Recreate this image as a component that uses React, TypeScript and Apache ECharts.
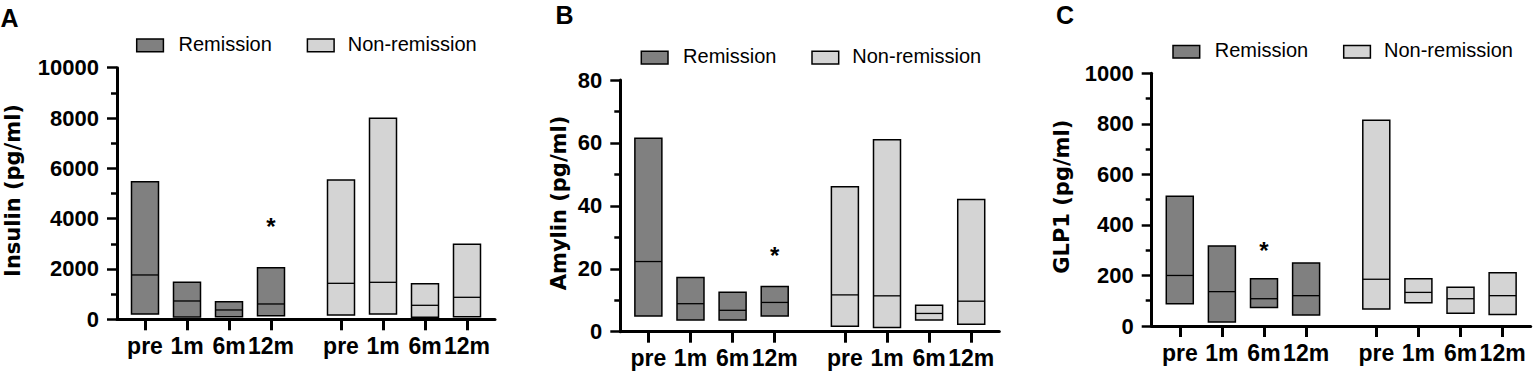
import React, { useEffect, useRef } from 'react';
import * as echarts from 'echarts';

const timepoints = ['pre', '1m', '6m', '12m'];
const groupNames = ['Remission', 'Non-remission'];
// each row: [min, median, max] for one timepoint
const insulinRemission = [[212, 1762, 5470], [95, 728, 1470], [106, 371, 702], [146, 609, 2053]];
const insulinNonRemission = [[172, 1430, 5536], [212, 1470, 7987], [80, 556, 1417], [106, 874, 2980]];
const amylinRemission = [[5.0, 22.3, 61.5], [3.7, 8.9, 17.2], [3.7, 6.8, 12.5], [5.0, 9.3, 14.4]];
const amylinNonRemission = [[1.7, 11.7, 46.1], [1.3, 11.4, 61.0], [3.7, 5.8, 8.4], [2.4, 9.7, 42.0]];
const glp1Remission = [[88, 200, 513], [16, 136, 317], [73, 108, 187], [44, 120, 249]];
const glp1NonRemission = [[67, 185, 814], [92, 133, 187], [50, 108, 153], [46, 120, 211]];
const panelLetters = ['A', 'B', 'C'];
const yTitles = ['Insulin (pg/ml)', 'Amylin (pg/ml)', 'GLP1 (pg/ml)'];
const yMaxes = [10000, 80, 1000];
const yIntervals = [2000, 20, 200];
// significance marker per panel: [group index, timepoint index, y value]
const stars = [[0, 3, 3880], [0, 3, 26], [0, 2, 320]];

const panelData = [
  [insulinRemission, insulinNonRemission],
  [amylinRemission, amylinNonRemission],
  [glp1Remission, glp1NonRemission],
];

const FONT = 'Liberation Sans';
const TITLE_FONT = 'DejaVu Sans';
const groupColors = ['#808080', '#d4d4d4'];
const grids = [
  { left: 117, top: 67.7, width: 378, height: 251.6 },
  { left: 620.3, top: 80, width: 379, height: 251.7 },
  { left: 1151.7, top: 73.3, width: 379, height: 252.7 },
];
const legendPos = [
  { x: 136.7, y: 45.3 },
  { x: 641.3, y: 57.5 },
  { x: 1173, y: 51.7 },
];
const letterPos = [
  { x: 0.5, y: 17.5 },
  { x: 555.5, y: 15 },
  { x: 1056, y: 15.3 },
];
const titlePos = [
  { x: 13, y: 190.5 },
  { x: 558.7, y: 203 },
  { x: 1061.5, y: 196.7 },
];

const slot = (g: number, t: number) => g * 14 + t * 3;
const slots: number[] = [];
groupNames.forEach((_, g) => timepoints.forEach((_, t) => slots.push(slot(g, t))));
const labelFor = (v: number) => {
  const idx = slots.findIndex((s) => Math.abs(s - v) < 1e-6);
  return idx >= 0 ? timepoints[idx % timepoints.length] : '';
};

export default function App() {
  const ref = useRef<HTMLDivElement>(null);
  useEffect(() => {
    if (!ref.current) return;
    const chart = echarts.init(ref.current, undefined, { renderer: 'svg' });

    const xAxis: any[] = [];
    const yAxis: any[] = [];
    const series: any[] = [];
    const graphic: any[] = [];

    grids.forEach((_, p) => {
      xAxis.push({
        type: 'value',
        gridIndex: p,
        min: -2,
        max: 25,
        axisLine: { show: true, onZero: false, lineStyle: { color: '#000', width: 3 } },
        axisTick: { show: true, customValues: slots, length: 11, lineStyle: { color: '#000', width: 3 } },
        axisLabel: {
          show: true,
          customValues: slots,
          formatter: (v: number) => labelFor(v),
          color: '#000',
          fontFamily: FONT,
          fontWeight: 'bold',
          fontSize: 23,
          margin: 15,
        },
        splitLine: { show: false },
      });
      yAxis.push({
        type: 'value',
        gridIndex: p,
        min: 0,
        max: yMaxes[p],
        interval: yIntervals[p],
        axisLine: { show: true, onZero: false, lineStyle: { color: '#000', width: 3 } },
        axisTick: { show: true, length: 10, lineStyle: { color: '#000', width: 2.5 } },
        minorTick: { show: true, splitNumber: 2, length: 6, lineStyle: { color: '#000', width: 2.5 } },
        axisLabel: {
          color: '#000',
          fontFamily: FONT,
          fontWeight: 'bold',
          fontSize: 22,
          margin: 18,
          formatter: (v: number) => String(v),
        },
        splitLine: { show: false },
      });

      panelData[p].forEach((arr, g) => {
        series.push({
          type: 'custom',
          name: groupNames[g],
          xAxisIndex: p,
          yAxisIndex: p,
          encode: { x: 0, y: [1, 2, 3] },
          data: arr.map((row, t) => [slot(g, t), row[0], row[1], row[2]]),
          renderItem: (params: any, api: any) => {
            const x = api.value(0);
            const lo = api.coord([x, api.value(1)]);
            const med = api.coord([x, api.value(2)]);
            const hi = api.coord([x, api.value(3)]);
            const w = 27;
            return {
              type: 'group',
              children: [
                {
                  type: 'rect',
                  shape: { x: lo[0] - w / 2, y: hi[1], width: w, height: lo[1] - hi[1] },
                  style: { fill: groupColors[g], stroke: '#000', lineWidth: 1.5 },
                },
                {
                  type: 'line',
                  shape: { x1: lo[0] - w / 2, y1: med[1], x2: lo[0] + w / 2, y2: med[1] },
                  style: { stroke: '#000', lineWidth: 1.3 },
                },
              ],
            };
          },
        });
      });

      const st = stars[p];
      series.push({
        type: 'custom',
        name: 'significance',
        xAxisIndex: p,
        yAxisIndex: p,
        encode: { x: 0, y: 1 },
        data: [[slot(st[0], st[1]), st[2]]],
        renderItem: (params: any, api: any) => {
          const c = api.coord([api.value(0), api.value(1)]);
          const fs = 24;
          return {
            type: 'text',
            x: c[0],
            y: c[1] + 0.22 * fs,
            style: {
              text: '*',
              fontFamily: FONT,
              fontWeight: 'bold',
              fontSize: fs,
              fill: '#000',
              align: 'center',
              verticalAlign: 'middle',
            },
          };
        },
      });

      // legend
      const lp = legendPos[p];
      graphic.push(
        { type: 'rect', shape: { x: lp.x, y: lp.y - 6.3, width: 26.7, height: 12.7 }, style: { fill: groupColors[0], stroke: '#000', lineWidth: 1.5 } },
        { type: 'text', x: lp.x + 41.8, y: lp.y - 1.8, style: { text: groupNames[0], fontFamily: FONT, fontSize: 20, fill: '#000', align: 'left', verticalAlign: 'middle' } },
        { type: 'rect', shape: { x: lp.x + 170.7, y: lp.y - 6.3, width: 26.7, height: 12.7 }, style: { fill: groupColors[1], stroke: '#000', lineWidth: 1.5 } },
        { type: 'text', x: lp.x + 211, y: lp.y - 1.8, style: { text: groupNames[1], fontFamily: FONT, fontSize: 20, fill: '#000', align: 'left', verticalAlign: 'middle' } },
      );
      // panel letter
      graphic.push({
        type: 'text',
        x: letterPos[p].x,
        y: letterPos[p].y,
        style: { text: panelLetters[p], fontFamily: FONT, fontWeight: 'bold', fontSize: 25, fill: '#000', align: 'left', verticalAlign: 'middle' },
      });
      // y title
      graphic.push({
        type: 'text',
        x: titlePos[p].x,
        y: titlePos[p].y,
        rotation: Math.PI / 2,
        style: { text: yTitles[p], fontFamily: TITLE_FONT, fontWeight: 'bold', fontSize: 21, fill: '#000', align: 'center', verticalAlign: 'middle' },
      });
    });

    chart.setOption({
      animation: false,
      backgroundColor: '#fff',
      grid: grids.map((g) => ({ ...g, containLabel: false })),
      xAxis,
      yAxis,
      series,
      graphic,
    });
    return () => chart.dispose();
  }, []);

  return <div ref={ref} style={{ position: 'absolute', left: 0, top: 0, width: 1536, height: 378 }} />;
}
